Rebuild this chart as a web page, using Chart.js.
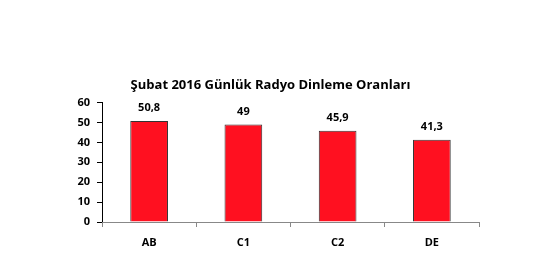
<!DOCTYPE html>
<html>
<head>
<meta charset="utf-8">
<script src="https://cdn.jsdelivr.net/npm/chart.js@4/dist/chart.umd.min.js"></script>
<style>
  body { margin: 0; background: #fff; }
</style>
</head>
<body>
<canvas id="myChart" width="551" height="268"></canvas>
<script>
const categories = ['AB', 'C1', 'C2', 'DE'];
const values = [50.8, 49, 45.9, 41.3];
const yTicks = [0, 10, 20, 30, 40, 50, 60];

const fontFam = '"Open Sans", "Liberation Sans", sans-serif';

// draws the value above each bar, with a comma as decimal mark
const valueLabels = {
    id: 'valueLabels',
    afterDatasetsDraw(chart) {
        const c = chart.ctx;
        const meta = chart.getDatasetMeta(0);
        c.save();
        c.font = 'bold 11px ' + fontFam;
        c.fillStyle = '#000';
        c.textAlign = 'center';
        c.textBaseline = 'middle';
        meta.data.forEach((bar, i) => {
            c.fillText(String(values[i]).replace('.', ','), bar.x, bar.y - 13);
        });
        c.restore();
    }
};

const ctx = document.getElementById('myChart').getContext('2d');
const myChart = new Chart(ctx, {
    type: 'bar',
    data: {
        labels: categories,
        datasets: [{
            data: values,
            backgroundColor: '#FF1020',
            borderColor: '#333333',
            borderWidth: 1,
            barPercentage: 0.4,
            categoryPercentage: 1
        }]
    },
    options: {
        responsive: false,
        animation: false,
        layout: { padding: { left: 62, right: 72, top: 0, bottom: 0 } },
        plugins: {
            legend: { display: false },
            tooltip: { enabled: false },
            title: {
                display: true,
                text: 'Şubat 2016 Günlük Radyo Dinleme Oranları',
                color: '#000',
                font: { family: fontFam, size: 13, weight: 'bold' },
                padding: { top: 77, bottom: 10 }
            }
        },
        scales: {
            y: {
                min: 0,
                max: 60,
                afterBuildTicks(scale) {
                    scale.ticks = yTicks.map(v => ({ value: v }));
                },
                afterFit(scale) { scale.width = 40; },
                border: { display: true, color: '#000', width: 1 },
                grid: { drawOnChartArea: false, tickLength: 5, color: '#000' },
                ticks: {
                    color: '#000',
                    padding: 7,
                    font: { family: fontFam, size: 11, weight: 'bold' }
                }
            },
            x: {
                afterFit(scale) { scale.height = 46; },
                border: { display: true, color: '#888', width: 1 },
                grid: { drawOnChartArea: false, offset: true, tickLength: 5, color: '#888' },
                ticks: {
                    color: '#000',
                    padding: 9,
                    font: { family: fontFam, size: 11, weight: 'bold' }
                }
            }
        }
    },
    plugins: [valueLabels]
});
</script>
</body>
</html>
